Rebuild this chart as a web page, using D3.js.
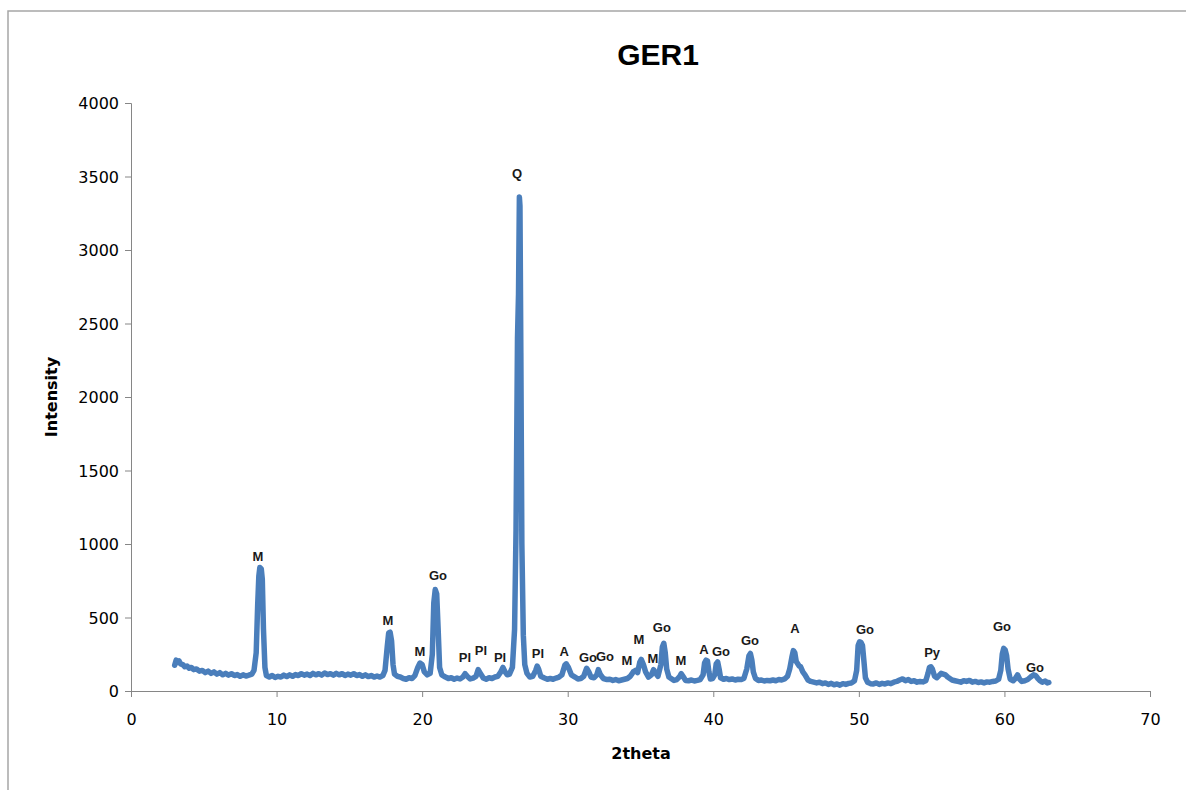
<!DOCTYPE html>
<html>
<head>
<meta charset="utf-8">
<script src="https://cdn.jsdelivr.net/npm/d3@7"></script>
<style>
  body { margin: 0; background: #fff; }
  .axis path, .axis line { stroke: #868686; }
  .axis text { font-family: 'DejaVu Sans', Verdana, sans-serif; font-size: 16px; fill: #000; }
</style>
</head>
<body>
<svg id="chart" width="1186" height="790"></svg>
<script>
const twoTheta = [
  3.0, 3.1, 3.2, 3.3, 3.4, 3.55, 3.7, 3.85, 4.0, 4.15, 4.3, 4.5, 4.7, 4.9, 5.1, 5.3, 5.5, 5.7, 5.9, 6.1,
  6.3, 6.5, 6.7, 6.9, 7.1, 7.3, 7.5, 7.7, 7.9, 8.1, 8.3, 8.45, 8.6, 8.7, 8.78, 8.85, 8.95, 9.02, 9.1, 9.2,
  9.3, 9.5, 9.7, 9.9, 10.1, 10.3, 10.5, 10.7, 10.9, 11.1, 11.3, 11.5, 11.7, 11.9, 12.1, 12.3, 12.5, 12.7, 12.9, 13.1,
  13.3, 13.5, 13.7, 13.9, 14.1, 14.3, 14.5, 14.7, 14.9, 15.1, 15.3, 15.5, 15.7, 15.9, 16.1, 16.3, 16.5, 16.7, 16.9, 17.1,
  17.3, 17.45, 17.6, 17.7, 17.8, 17.9, 18.0, 18.1, 18.3, 18.5, 18.7, 18.9, 19.1, 19.3, 19.5, 19.7, 19.85, 20.0, 20.15, 20.35,
  20.55, 20.7, 20.8, 20.9, 21.0, 21.1, 21.2, 21.35, 21.6, 21.8, 22.0, 22.2, 22.4, 22.6, 22.8, 22.95, 23.1, 23.3, 23.5, 23.7,
  23.85, 24.0, 24.2, 24.4, 24.6, 24.8, 25.0, 25.2, 25.4, 25.55, 25.7, 25.85, 26.0, 26.2, 26.35, 26.45, 26.55, 26.62, 26.68, 26.72,
  26.78, 26.85, 26.95, 27.05, 27.2, 27.4, 27.6, 27.8, 27.9, 28.0, 28.15, 28.4, 28.6, 28.8, 29.0, 29.2, 29.4, 29.6, 29.8, 29.9,
  30.05, 30.25, 30.5, 30.7, 30.9, 31.1, 31.3, 31.45, 31.6, 31.8, 32.0, 32.1, 32.25, 32.45, 32.7, 32.9, 33.1, 33.3, 33.5, 33.7,
  33.9, 34.1, 34.3, 34.5, 34.65, 34.8, 34.95, 35.05, 35.2, 35.35, 35.55, 35.75, 35.9, 36.05, 36.2, 36.4, 36.5, 36.6, 36.7, 36.8,
  36.95, 37.1, 37.3, 37.5, 37.7, 37.8, 37.95, 38.1, 38.3, 38.5, 38.7, 38.9, 39.1, 39.3, 39.4, 39.5, 39.6, 39.7, 39.8, 39.95,
  40.1, 40.2, 40.3, 40.4, 40.5, 40.7, 40.9, 41.1, 41.3, 41.5, 41.7, 41.9, 42.1, 42.3, 42.45, 42.55, 42.65, 42.75, 42.9, 43.1,
  43.3, 43.5, 43.7, 43.9, 44.1, 44.3, 44.5, 44.7, 44.9, 45.1, 45.25, 45.4, 45.5, 45.6, 45.7, 45.8, 45.9, 46.0, 46.15, 46.3,
  46.5, 46.7, 46.9, 47.1, 47.3, 47.5, 47.7, 47.9, 48.1, 48.3, 48.5, 48.7, 48.9, 49.1, 49.3, 49.5, 49.7, 49.85, 49.95, 50.05,
  50.15, 50.25, 50.35, 50.45, 50.6, 50.8, 51.0, 51.2, 51.4, 51.6, 51.8, 52.0, 52.2, 52.4, 52.6, 52.8, 53.0, 53.2, 53.4, 53.6,
  53.8, 54.0, 54.2, 54.4, 54.6, 54.75, 54.85, 54.95, 55.05, 55.2, 55.35, 55.5, 55.65, 55.8, 55.95, 56.1, 56.25, 56.4, 56.6, 56.8,
  57.0, 57.2, 57.4, 57.6, 57.8, 58.0, 58.2, 58.4, 58.6, 58.8, 59.0, 59.2, 59.4, 59.6, 59.75, 59.85, 59.95, 60.05, 60.15, 60.25,
  60.4, 60.6, 60.75, 60.9, 61.05, 61.2, 61.4, 61.6, 61.8, 62.0, 62.15, 62.3, 62.45, 62.6, 62.8, 62.95, 63.05,
];
const intensity = [
  175, 210, 195, 205, 185, 180, 165, 170, 155, 160, 145, 150, 135, 140, 125, 135, 120, 130, 115, 125,
  110, 120, 108, 118, 105, 112, 100, 110, 102, 108, 115, 140, 260, 580, 780, 840, 830, 760, 420, 160,
  105, 95, 105, 92, 100, 95, 108, 98, 110, 100, 112, 105, 118, 108, 115, 105, 120, 110, 118, 108,
  122, 112, 118, 108, 120, 110, 118, 105, 115, 108, 118, 105, 112, 100, 110, 98, 105, 95, 102, 95,
  105, 140, 300, 395, 400, 340, 180, 115, 100, 95, 85, 80, 90, 85, 105, 160, 190, 180, 130, 110,
  120, 250, 600, 690, 660, 420, 160, 110, 95, 85, 90, 80, 88, 82, 95, 118, 100, 82, 88, 100,
  145, 120, 88, 80, 90, 85, 95, 100, 130, 160, 130, 110, 115, 160, 420, 1100, 2400, 2700, 3360, 3300,
  2300, 1000, 380, 180, 120, 95, 100, 140, 170, 150, 100, 88, 80, 85, 80, 88, 95, 110, 175, 185,
  160, 110, 95, 82, 85, 100, 155, 130, 95, 90, 110, 145, 110, 85, 78, 80, 72, 78, 70, 75,
  80, 85, 100, 130, 140, 125, 195, 215, 180, 130, 95, 110, 145, 120, 100, 180, 300, 325, 260, 150,
  95, 85, 72, 78, 100, 118, 95, 72, 70, 75, 68, 72, 78, 110, 190, 210, 205, 130, 82, 85,
  110, 185, 198, 150, 90, 80, 85, 78, 82, 75, 80, 78, 85, 150, 240, 255, 210, 130, 85, 72,
  75, 68, 72, 70, 75, 70, 78, 75, 82, 100, 150, 230, 275, 260, 200, 185, 170, 165, 130, 110,
  75, 65, 60, 55, 60, 50, 55, 45, 52, 42, 48, 40, 50, 45, 52, 55, 70, 140, 310, 335,
  330, 310, 200, 90, 60, 50, 48, 55, 45, 52, 48, 55, 50, 60, 65, 75, 82, 70, 78, 65,
  70, 60, 65, 62, 70, 120, 160, 165, 150, 100, 90, 105, 120, 115, 110, 95, 85, 75, 70, 65,
  60, 70, 65, 72, 60, 65, 58, 62, 55, 62, 60, 65, 68, 80, 140, 250, 290, 280, 240, 150,
  80, 70, 85, 110, 80, 65, 70, 78, 95, 110, 105, 85, 70, 60, 68, 55, 58,
];

// phase labels above the peaks
const peakNames = ['M', 'M', 'M', 'Go', 'Pl', 'Pl', 'Pl', 'Q', 'Pl', 'A', 'Go', 'Go', 'M', 'M', 'M', 'Go', 'M',
  'A', 'Go', 'Go', 'A', 'Go', 'Py', 'Go', 'Go'];
const peakX = [8.72, 17.65, 19.85, 21.09, 22.94, 24.04, 25.35, 26.52, 27.96, 29.75, 31.39, 32.56, 34.07, 34.9, 35.86, 36.47, 37.78,
  39.36, 40.53, 42.52, 45.61, 50.42, 55.03, 59.83, 62.1];
const peakY = [918, 483, 272, 789, 231, 279, 231, 3524, 259, 272, 231, 238, 211, 354, 224, 435, 211,
  286, 272, 347, 429, 422, 265, 442, 163];

const xTicks = [0, 10, 20, 30, 40, 50, 60, 70];
const yTicks = [0, 500, 1000, 1500, 2000, 2500, 3000, 3500, 4000];

const svg = d3.select('#chart');
const margin = { top: 103, right: 36, bottom: 99, left: 131 };
const width = 1186 - margin.left - margin.right;
const height = 790 - margin.top - margin.bottom;

// chart frame (runs off the right and bottom of the picture)
svg.append('rect')
  .attr('x', 8).attr('y', 11)
  .attr('width', 1200).attr('height', 800)
  .attr('fill', 'none')
  .attr('stroke', '#a6a6a6')
  .attr('stroke-width', 1.5);

const g = svg.append('g').attr('transform', `translate(${margin.left}, ${margin.top})`);

const xScale = d3.scaleLinear().domain([0, 70]).range([0, width]);
const yScale = d3.scaleLinear().domain([0, 4000]).range([height, 0]);

g.append('g')
  .attr('class', 'x axis')
  .attr('transform', `translate(0, ${height})`)
  .call(d3.axisBottom(xScale).tickValues(xTicks).tickSize(6).tickSizeOuter(6).tickPadding(20).tickFormat(d3.format('d')));

g.append('g')
  .attr('class', 'y axis')
  .call(d3.axisLeft(yScale).tickValues(yTicks).tickSize(6).tickSizeOuter(6).tickPadding(6).tickFormat(d3.format('d')));

g.selectAll('.axis .tick text').attr('dy', function () {
  return d3.select(this.parentNode.parentNode).classed('x') ? '0.5em' : '0.35em';
});

const data = twoTheta.map((t, i) => ({ t, v: intensity[i] }));
const line = d3.line().x((d) => xScale(d.t)).y((d) => yScale(d.v));

g.append('path')
  .datum(data)
  .attr('fill', 'none')
  .attr('stroke', '#4a7ebb')
  .attr('stroke-width', 5.5)
  .attr('stroke-linejoin', 'round')
  .attr('stroke-linecap', 'round')
  .attr('d', line);

g.append('g')
  .selectAll('text')
  .data(peakNames)
  .join('text')
  .attr('x', (d, i) => xScale(peakX[i]))
  .attr('y', (d, i) => yScale(peakY[i]))
  .attr('dy', '0.36em')
  .attr('text-anchor', 'middle')
  .style('font-family', '"Liberation Sans", Arial, sans-serif')
  .style('font-size', '13px')
  .style('font-weight', 'bold')
  .style('fill', '#1a1a1a')
  .text((d) => d);

svg.append('text')
  .attr('x', 658).attr('y', 65)
  .attr('text-anchor', 'middle')
  .style('font-family', '"Liberation Sans", Arial, sans-serif')
  .style('font-size', '30px')
  .style('font-weight', 'bold')
  .text('GER1');

svg.append('text')
  .attr('transform', 'translate(57, 397) rotate(-90)')
  .attr('text-anchor', 'middle')
  .style('font-family', '"DejaVu Sans", Verdana, sans-serif')
  .style('font-size', '16px')
  .style('font-weight', 'bold')
  .text('Intensity');

svg.append('text')
  .attr('x', 641).attr('y', 759)
  .attr('text-anchor', 'middle')
  .style('font-family', '"DejaVu Sans", Verdana, sans-serif')
  .style('font-size', '16px')
  .style('font-weight', 'bold')
  .text('2theta');
</script>
</body>
</html>
